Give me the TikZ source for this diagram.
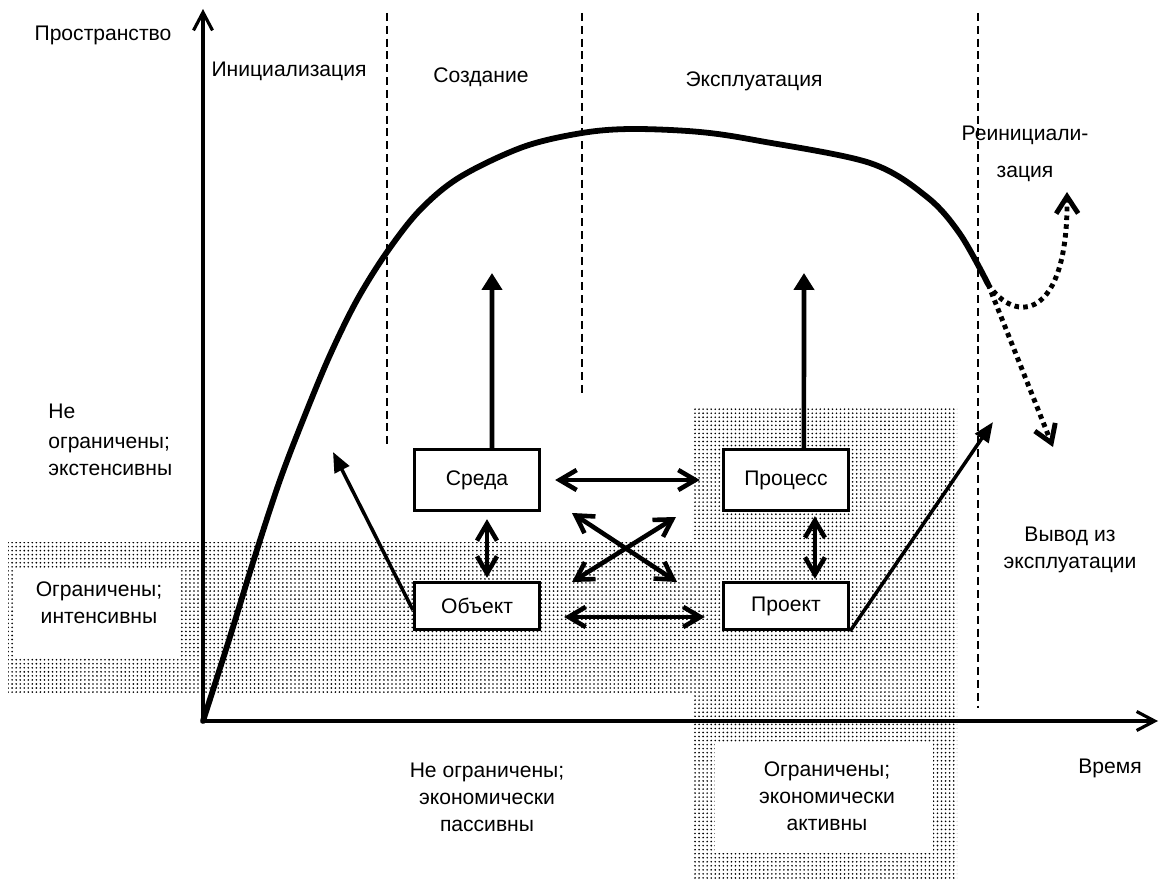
\documentclass[tikz,border=0pt]{standalone}
\usepackage{fontspec}
\setmainfont{Liberation Sans}
\usetikzlibrary{arrows.meta, positioning, patterns}

\pgfdeclarepatternformonly{finedots}{\pgfqpoint{-1pt}{-1pt}}{\pgfqpoint{1pt}{1pt}}{\pgfqpoint{2.3pt}{2.3pt}}{%
  \pgfpathcircle{\pgfqpoint{0pt}{0pt}}{0.52pt}\pgfusepath{fill}}

\begin{document}
\begin{tikzpicture} [x = 0.02cm, y = -0.02cm, node distance = 2cm, on grid,
        font = \fontsize{12}{15.3}\selectfont,
        block/.style = {draw, line width = 1.9pt, fill = white, minimum width = 2.5cm, inner sep = 0pt},
        label/.style = {align = center, inner sep = 0pt},
        shade/.style = {pattern = finedots, pattern color = black},
        axis/.style = {-{Straight Barb[length = 3.6mm, width = 3.8mm]}, line width = 1.8pt},
        phase/.style = {line width = 1.4pt, dash pattern = on 4.5pt off 2.8pt},
        dbl/.style = {{Straight Barb[length = 3.4mm, width = 4mm]}-{Straight Barb[length = 3.4mm, width = 4mm]}, line width = 2.6pt},
        up/.style = {-{Triangle[length = 3.4mm, width = 4mm]}, line width = 2.6pt},
        diag/.style = {-{Triangle[length = 4mm, width = 3.2mm]}, line width = 2pt},
        dotarrow/.style = {-{Straight Barb[length = 3.4mm, width = 4.4mm]}, line width = 2.8pt, dash pattern = on 2.6pt off 2.4pt}]

        \useasboundingbox (0,0) rectangle (1161,882);

        % shaded zones
        \fill [shade] (8,542) rectangle (692,693);
        \fill [shade] (692,408) rectangle (957,878);
        \fill [white] (15,568) rectangle (180,657);
        \fill [white] (715,743) rectangle (933,853);

        % axes
        \coordinate (origin) at (203,721);
        \coordinate (ytop) at (203,9);
        \coordinate (xend) at (1158,721);
        \draw [axis] (origin) -- (ytop);
        \draw [axis] (origin) -- (xend);

        % phase borders
        \draw [phase] (387,13) -- (387,448);
        \draw [phase] (582,13) -- (582,393);
        \draw [phase] (978,13) -- (978,708);

        % life curve
        \coordinate (cend) at (988,284);
        \draw [line width = 3.3pt, line cap = round] plot [smooth, tension = 0.55] coordinates {
            (203,721) (229,640) (255,556) (280,480) (305,415) (330,355) (357,300) (387,252) (420,210)
            (460,177) (523,147) (582,133) (632,129) (700,132) (760,141) (870,163) (927,197) (960,234) (cend)};

        % labels
        \node (space) [label] at (103,35) {Пространство};
        \node (time) [label] at (1110,768) {Время};
        \node (init) [label] at (289,71) {Инициализация};
        \node (create) [label] at (481,77) {Создание};
        \node (exploit) [label] at (754,81) {Эксплуатация};
        \node (reinitl) [label] at (1025,154) {Реинициали-\\[5.5pt]зация};
        \node (unlim) [label, align = left, anchor = west] at (48,440) {Не\\[1.5pt]ограничены;\\экстенсивны};
        \node (lim) [label] at (99,603) {Ограничены;\\интенсивны};
        \node (withdraw) [label] at (1070,550) {Вывод из\\эксплуатации};
        \node (passive) [label] at (487,797) {Не ограничены;\\экономически\\пассивны};
        \node (active) [label] at (827,796) {Ограничены;\\экономически\\активны};

        % blocks
        \node (sreda) [block, minimum height = 1.22cm] at (477,480) {Среда};
        \node (process) [block, minimum height = 1.22cm, right = 6.18cm of sreda] {Процесс};
        \node (object) [block, minimum height = 0.94cm, below = 2.52cm of sreda] {Объект};
        \node (project) [block, minimum height = 0.94cm, below = 2.52cm of process] {Проект};

        \coordinate (sredaup) at (492,273);
        \coordinate (processup) at (804,273);
        \coordinate (objectup) at (333,452);
        \coordinate (projectup) at (993,422);
        \coordinate (cross1) at (572,513);
        \coordinate (cross2) at (677,582);
        \coordinate (cross3) at (572,582);
        \coordinate (cross4) at (676,517);
        \coordinate (dropout) at (1053,447);
        \coordinate (reinit) at (1067,192);

        \draw [up] ([xshift = 0.3cm]sreda.north) -- (sredaup);
        \draw [up] ([xshift = 0.36cm]process.north) -- (processup);
        \draw [dbl, shorten < = 0.28cm, shorten > = 0.44cm] (sreda.east) -- (process.west);
        \draw [dbl, shorten < = 0.46cm, shorten > = 0.34cm] ([yshift = -0.22cm]object.east) -- ([yshift = -0.22cm]project.west);
        \draw [dbl, shorten < = 0.14cm, shorten > = 0.06cm] ([xshift = 0.2cm]sreda.south) -- ([xshift = 0.2cm]object.north);
        \draw [dbl, shorten < = 0.08cm, shorten > = 0.04cm] ([xshift = 0.58cm]process.south) -- ([xshift = 0.58cm]project.north);
        \draw [dbl] (cross1) -- (cross2);
        \draw [dbl] (cross3) -- (cross4);
        \draw [diag] ([yshift = -0.08cm]object.west) -- (objectup);
        \draw [diag] (project.south east) -- (projectup);

        % leaving the curve
        \draw [dotarrow] (cend) -- (dropout);
        \draw [dotarrow] (cend) .. controls (1015,325) and (1068,320) .. (reinit);

    \end{tikzpicture}
\end{document}
